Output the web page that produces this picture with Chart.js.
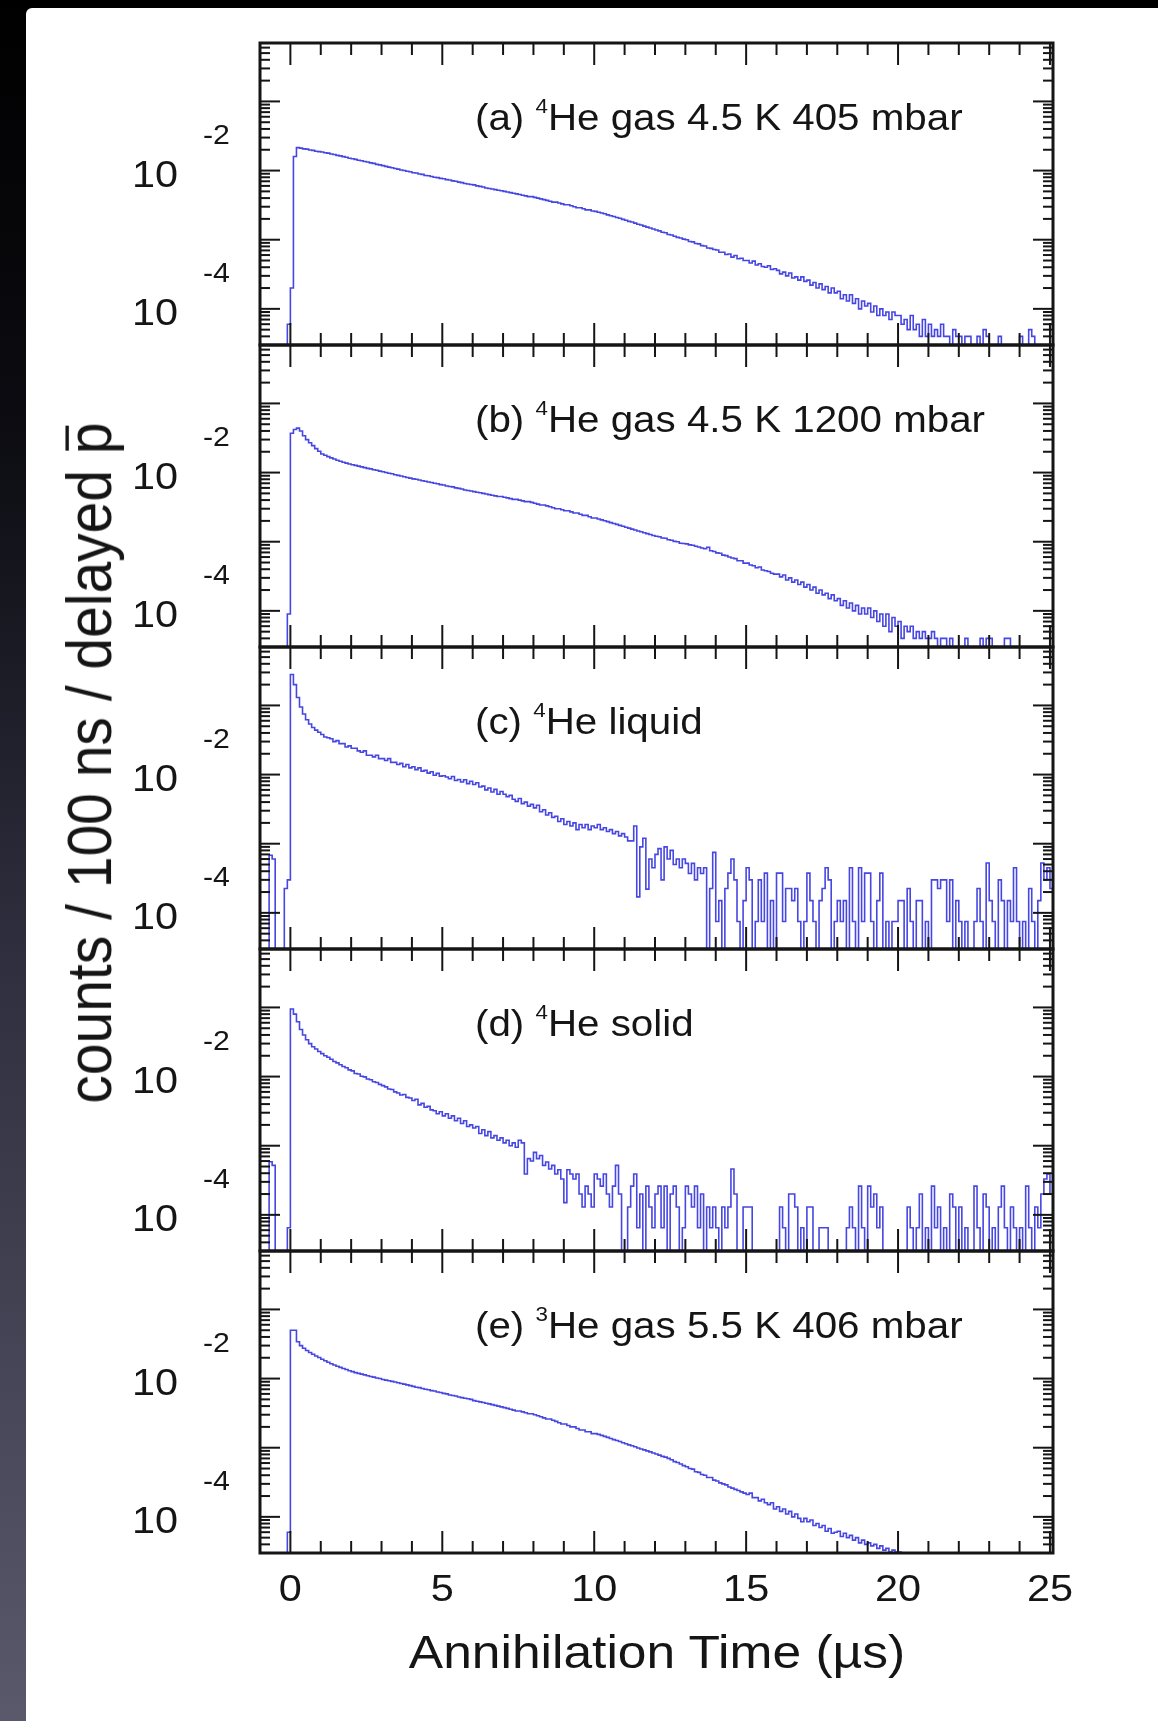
<!DOCTYPE html>
<html>
<head>
<meta charset="utf-8">
<script src="https://cdn.jsdelivr.net/npm/chart.js@4.4.1/dist/chart.umd.min.js"></script>
<style>
  html, body { margin: 0; padding: 0; }
  body {
    width: 1158px; height: 1721px; position: relative; overflow: hidden;
    background: linear-gradient(to bottom, #000 0%, #0c0c12 25%, #2e2e3e 55%, #5a596c 100%);
  }
  #sheet { position: absolute; left: 26px; top: 8px; right: 0; bottom: 0; background: #fff; border-top-left-radius: 6px; }
  .panel { position: absolute; left: 0; }
  .title { position: absolute; font-family: "Liberation Sans", Arial, sans-serif; color: #151515; white-space: nowrap; }
  #xtitle { left: 657px; top: 1652px; font-size: 46px; transform: translate(-50%, -50%) scaleX(1.12); }
  #ytitle { left: 89px; top: 763px; font-size: 57px; transform: translate(-50%, -50%) scaleX(1.12) rotate(-90deg); }
  .pbar { position: relative; }
  .pbar::before { content: ""; position: absolute; left: 0.06em; right: 0.06em; top: 0.2em; border-top: 0.055em solid #151515; }
</style>
</head>
<body>
<div id="sheet"></div>
<div class="panel" id="p0"><canvas></canvas></div>
<div class="panel" id="p1"><canvas></canvas></div>
<div class="panel" id="p2"><canvas></canvas></div>
<div class="panel" id="p3"><canvas></canvas></div>
<div class="panel" id="p4"><canvas></canvas></div>
<div class="title" id="ytitle">counts / 100 ns / delayed <span class="pbar">p</span></div>
<div class="title" id="xtitle">Annihilation Time (µs)</div>

<script>
// histogram: 100 ns bins, first bin starts at -1.0 us, last bin starts at 25.0 us
const firstBinEdge = -1.0;
const binWidth = 0.1;

const panelTags = ["(a)", "(b)", "(c)", "(d)", "(e)"];
const panelMass = ["4", "4", "4", "4", "3"];
const panelTexts = ["He gas 4.5 K 405 mbar", "He gas 4.5 K 1200 mbar", "He liquid", "He solid", "He gas 5.5 K 406 mbar"];

const xTickLabels = [0, 5, 10, 15, 20, 25];
const yLabelExponents = [-2, -4];

// counts / 100 ns / delayed pbar, one row per microsecond (first row: -1.0 .. -0.1)
const countsA = [
  0, 0, 0, 0, 0, 0, 0, 0, 0, 6e-5,
  2e-4, 0.0160, 0.0215, 0.0211, 0.0206, 0.0204, 0.0198, 0.0196, 0.0190, 0.0188,
  0.0186, 0.0181, 0.0179, 0.0174, 0.0171, 0.0166, 0.0163, 0.0159, 0.0156, 0.0151,
  0.0148, 0.0145, 0.0141, 0.0139, 0.0135, 0.0133, 0.0129, 0.0127, 0.0123, 0.0121,
  0.0118, 0.0115, 0.0112, 0.0110, 0.0107, 0.0105, 0.0102, 0.0100, 0.0098, 0.0096,
  0.0093, 0.0092, 0.0089, 0.0088, 0.0085, 0.0084, 0.0082, 0.0080, 0.0079, 0.0077,
  0.0076, 0.0074, 0.0073, 0.0071, 0.0070, 0.0068, 0.0067, 0.0065, 0.0064, 0.0063,
  0.0062, 0.0060, 0.0059, 0.0058, 0.0056, 0.0055, 0.0054, 0.0053, 0.0052, 0.0051,
  0.0050, 0.0049, 0.0048, 0.0047, 0.0046, 0.0045, 0.0044, 0.0043, 0.0042, 0.0042,
  0.0041, 0.0040, 0.0039, 0.0038, 0.0037, 0.0036, 0.0035, 0.0035, 0.0034, 0.0033,
  0.0032, 0.0032, 0.0031, 0.0030, 0.0029, 0.0029, 0.0028, 0.0027, 0.0027, 0.0026,
  0.00257, 0.00250, 0.00243, 0.00237, 0.00229, 0.00222, 0.00217, 0.00209, 0.00204, 0.00197,
  0.00191, 0.00184, 0.00180, 0.00174, 0.00167, 0.00163, 0.00157, 0.00152, 0.00148, 0.00143,
  0.00138, 0.00134, 0.00128, 0.00126, 0.00119, 0.00117, 0.00112, 0.00108, 0.00106, 0.00102,
  0.00100, 0.00094, 0.00093, 0.00088, 0.00087, 0.00082, 0.00081, 0.00076, 0.00075, 0.00072,
  0.00071, 0.00066, 0.00066, 0.00061, 0.00062, 0.00056, 0.00059, 0.00053, 0.00054, 0.00050,
  0.00050, 0.00046, 0.00049, 0.00043, 0.00045, 0.00041, 0.00040, 0.00042, 0.00037, 0.00038,
  0.00036, 0.00032, 0.00034, 0.00030, 0.00033, 0.00028, 0.00029, 0.00026, 0.00029, 0.00025,
  0.00026, 0.00022, 0.00024, 0.00020, 0.00023, 0.00019, 0.00021, 0.00017, 0.00020, 0.00017,
  0.00018, 0.00014, 0.00016, 0.00013, 0.00016, 0.00012, 0.00014, 0.00010, 0.00013, 0.00011,
  0.00012, 0.00009, 0.00011, 0.00008, 0.00010, 0.00008, 0.00009, 0.00007, 0.00009, 0.00008,
  0.00008, 0.00006, 0.00007, 0.00005, 0.00008, 0.00005, 0.00006, 0.00004, 0.00007, 0.00004,
  0.00006, 0.00004, 0.00005, 0.00004, 0.00006, 0.00004, 0.00004, 0.00003, 0.00005, 0.00004,
  0.00004, 0, 0.00004, 0.00004, 0, 0, 0.00004, 0, 0.00005, 0.00004,
  0, 0, 0, 0.00004, 0, 0, 0, 0, 0, 0,
  0.00004, 0, 0, 0.00005, 0.00004, 0, 0, 0, 0, 0,
  0
];

const countsB = [
  0, 0, 0, 0, 0, 0, 0, 0, 0, 9e-5,
  0.037, 0.042, 0.044, 0.040, 0.034, 0.030, 0.027, 0.0245, 0.0222, 0.0203,
  0.0186, 0.0178, 0.0170, 0.0163, 0.0157, 0.0151, 0.0146, 0.0141, 0.0137, 0.0133,
  0.0130, 0.0127, 0.0124, 0.0121, 0.0118, 0.0115, 0.0113, 0.0110, 0.0108, 0.0105,
  0.0103, 0.0100, 0.0098, 0.0096, 0.0093, 0.0091, 0.0089, 0.0087, 0.0085, 0.0083,
  0.0081, 0.0080, 0.0078, 0.0076, 0.0075, 0.0073, 0.0072, 0.0070, 0.0069, 0.0067,
  0.0066, 0.0064, 0.0063, 0.0062, 0.0060, 0.0059, 0.0058, 0.0056, 0.0055, 0.0054,
  0.0053, 0.0052, 0.0051, 0.0050, 0.0049, 0.0048, 0.0047, 0.0046, 0.0045, 0.0045,
  0.0044, 0.0043, 0.0042, 0.0041, 0.0041, 0.0040, 0.0039, 0.0038, 0.0038, 0.0037,
  0.0036, 0.0035, 0.0034, 0.0034, 0.0033, 0.0032, 0.0031, 0.0030, 0.0030, 0.0029,
  0.0028, 0.0028, 0.0027, 0.0026, 0.0026, 0.0025, 0.0024, 0.0024, 0.0023, 0.0022,
  0.00220, 0.00213, 0.00207, 0.00201, 0.00195, 0.00189, 0.00183, 0.00178, 0.00172, 0.00167,
  0.00162, 0.00157, 0.00152, 0.00148, 0.00143, 0.00139, 0.00135, 0.00131, 0.00127, 0.00123,
  0.00120, 0.00118, 0.00113, 0.00112, 0.00107, 0.00105, 0.00101, 0.00100, 0.00095, 0.00094,
  0.00093, 0.00090, 0.00089, 0.00086, 0.00084, 0.00081, 0.00079, 0.00083, 0.00074, 0.00072,
  0.00069, 0.00068, 0.00064, 0.00063, 0.00060, 0.00058, 0.00057, 0.00053, 0.00053, 0.00049,
  0.00049, 0.00046, 0.00045, 0.00042, 0.00043, 0.00039, 0.00038, 0.00037, 0.00035, 0.00034,
  0.00034, 0.00031, 0.00033, 0.00028, 0.00030, 0.00026, 0.00028, 0.00024, 0.00026, 0.00022,
  0.00024, 0.00020, 0.00022, 0.00018, 0.00020, 0.00017, 0.00018, 0.00015, 0.00017, 0.00014,
  0.00015, 0.00012, 0.00014, 0.00011, 0.00013, 0.00010, 0.00012, 0.00009, 0.00011, 0.00009,
  0.00011, 0.00008, 0.00010, 0.00007, 0.00009, 0.00006, 0.00009, 0.00005, 0.00008, 0.00006,
  0.00007, 0.00004, 0.00006, 0.00005, 0.00006, 0.00004, 0.00005, 0.00004, 0.00005, 0.00004,
  0.00004, 0.00005, 0.00004, 0, 0.00004, 0.00004, 0, 0.00004, 0, 0,
  0, 0, 0.00004, 0, 0, 0, 0, 0.00004, 0, 0.00004,
  0.00004, 0, 0, 0, 0, 0.00004, 0.00004, 0, 0, 0,
  0, 0, 0, 0, 0, 0, 0, 0, 0, 0,
  0
];

const countsC = [
  0, 0, 0, 6.8e-4, 6e-4, 0, 0, 0, 2.25e-4, 3e-4,
  0.28, 0.20, 0.13, 0.095, 0.075, 0.062, 0.054, 0.048, 0.044, 0.041,
  0.038, 0.035, 0.034, 0.033, 0.030, 0.031, 0.028, 0.028, 0.025, 0.026,
  0.024, 0.024, 0.022, 0.021, 0.022, 0.019, 0.019, 0.018, 0.019, 0.017,
  0.017, 0.016, 0.017, 0.015, 0.015, 0.014, 0.0145, 0.013, 0.014, 0.0125,
  0.013, 0.0118, 0.0125, 0.0112, 0.0115, 0.0105, 0.011, 0.0098, 0.0104, 0.0095,
  0.0096, 0.0092, 0.0087, 0.0094, 0.0082, 0.0085, 0.0078, 0.0084, 0.0074, 0.0080,
  0.0072, 0.0076, 0.0066, 0.0068, 0.0060, 0.0064, 0.0056, 0.0061, 0.0052, 0.0057,
  0.0052, 0.0048, 0.0050, 0.0044, 0.0041, 0.0045, 0.0038, 0.0040, 0.0035, 0.0037,
  0.0033, 0.0036, 0.0029, 0.0031, 0.0026, 0.0028, 0.0024, 0.0025, 0.0021, 0.0023,
  0.0019, 0.0021, 0.0018, 0.0020, 0.0016, 0.0019, 0.0017, 0.0019, 0.0016, 0.0018,
  0.0017, 0.0019, 0.0016, 0.0017, 0.0015, 0.0016, 0.0014, 0.0015, 0.0013, 0.0014,
  0.00125, 0.0011, 0.0011, 0.0018, 0.00017, 0.0009, 0.0012, 0.00022, 0.0006, 0.00045,
  0.0007, 0.00085, 0.0003, 0.0009, 0.0006, 0.0008, 0.0005, 0.0006, 0.00045, 0.0006,
  0.00052, 0.00037, 0.00052, 0.0003, 0.00045, 0.00037, 0.00045, 0, 0.000225, 0.00075,
  0.000075, 0.00015, 0, 0.000225, 0.000375, 0.0006, 0.0003, 0.000075, 0, 0.00015,
  0.00045, 0.0003, 0, 0.000075, 0.0003, 0.000075, 0.000375, 0, 0.00015, 0,
  0.000375, 0.000375, 0.000075, 0.000225, 0.000225, 0.00015, 0.000225, 0.000075, 0, 0.000075,
  0.000375, 0.00015, 0.000075, 0, 0.00015, 0.000225, 0.00045, 0.0003, 0, 0.000075,
  0.00015, 0.000075, 0.00015, 0, 0.00045, 0.000075, 0, 0.00045, 0.000075, 0.000375,
  0.000375, 0.000075, 0, 0.00015, 0.000375, 0, 0.000075, 0, 0.000075, 0.000075,
  0.00015, 0.00015, 0, 0.000225, 0.000075, 0, 0.00015, 0.00015, 0, 0.000075,
  0, 0.0003, 0.0003, 0.000225, 0.0003, 0.0003, 0.000075, 0.0003, 0, 0.00015,
  0.000075, 0, 0.000075, 0, 0, 0.000075, 0.000225, 0.000075, 0, 0.000525,
  0.00015, 0.000075, 0, 0.0003, 0.00015, 0, 0.00015, 0.000075, 0.00045, 0.000075,
  0, 0.000075, 0, 0.000225, 0.000075, 0, 0.00015, 0.000525, 0.0003, 0.00045,
  0.000225
];

const countsD = [
  0, 0, 0, 5.85e-4, 5.2e-4, 0, 0, 0, 0, 6.5e-5,
  0.095, 0.080, 0.062, 0.048, 0.040, 0.034, 0.030, 0.027, 0.025, 0.023,
  0.0215, 0.020, 0.019, 0.0178, 0.0165, 0.0158, 0.0148, 0.0140, 0.0134, 0.0125,
  0.0121, 0.0111, 0.0109, 0.0101, 0.0099, 0.0092, 0.0090, 0.0084, 0.0082, 0.0077,
  0.0074, 0.0071, 0.0066, 0.0065, 0.0060, 0.0058, 0.0054, 0.0055, 0.0050, 0.0049,
  0.0045, 0.0047, 0.0039, 0.0041, 0.0036, 0.0037, 0.0033, 0.0032, 0.0029, 0.0031,
  0.0027, 0.0029, 0.0025, 0.0027, 0.0023, 0.0025, 0.0021, 0.0023, 0.0019, 0.0020,
  0.0018, 0.0019, 0.0015, 0.0017, 0.0014, 0.0016, 0.0013, 0.0014, 0.0012, 0.0013,
  0.0011, 0.0012, 0.0010, 0.0011, 0.00095, 0.0012, 0.0011, 0.00039, 0.00065, 0.0006,
  0.0008, 0.00065, 0.00072, 0.00052, 0.00058, 0.00046, 0.00052, 0.00039, 0.00045, 0.00033,
  0.00015, 0.00045, 0.00039, 0.00033, 0.00039, 0.0002, 0.00013, 0.00026, 0.0002, 0.00013,
  0.00039, 0.00033, 0.00026, 0.00039, 0.0002, 0.00013, 0.00026, 0.00052, 0.0002, 0,
  0, 0.00013, 0.00026, 0.00039, 0.000065, 0.0002, 0, 0.00026, 0.00013, 0.000065,
  0.0002, 0.00026, 0.000065, 0.00026, 0, 0.0002, 0.00026, 0.00013, 0, 0.000065,
  0.00026, 0.0002, 0.00013, 0.00026, 0.000065, 0.0002, 0, 0.00013, 0.000065, 0.00013,
  0.000065, 0, 0.00013, 0.000065, 0.00013, 0.00046, 0.0002, 0, 0, 0.00013,
  0.00013, 0.00013, 0, 0, 0, 0, 0, 0, 0, 0,
  0, 0.00013, 0.000065, 0, 0.0002, 0.0002, 0.00013, 0, 0.000065, 0,
  0.00013, 0.00013, 0, 0, 0.000065, 0.000065, 0.000065, 0, 0, 0,
  0, 0, 0, 0.000065, 0.00013, 0.000065, 0, 0.00026, 0.000065, 0,
  0.00026, 0.00013, 0.0002, 0.000065, 0.00013, 0, 0, 0, 0, 0,
  0, 0, 0, 0.00013, 0.000065, 0, 0.000065, 0.0002, 0, 0.000065,
  0, 0.00026, 0.000065, 0.00013, 0, 0.000065, 0, 0.0002, 0.00013, 0,
  0.00013, 0, 0.000065, 0, 0, 0.00026, 0.000065, 0, 0.0002, 0.00013,
  0, 0.000065, 0, 0.00013, 0.00026, 0.000065, 0, 0.00013, 0.000065, 0,
  0.000065, 0, 0.00026, 0.000065, 0, 0.00013, 0.000065, 0.0002, 0.00033, 0.00039,
  0.0002
];

const countsE = [
  0, 0, 0, 0, 0, 0, 0, 0, 0, 6e-5,
  0.050, 0.050, 0.034, 0.030, 0.0275, 0.0255, 0.0238, 0.0225, 0.0212, 0.0202,
  0.0190, 0.0181, 0.0172, 0.0164, 0.0157, 0.0151, 0.0145, 0.0140, 0.0135, 0.0130,
  0.0126, 0.0122, 0.0119, 0.0116, 0.0113, 0.0110, 0.0107, 0.0105, 0.0102, 0.0100,
  0.0097, 0.0095, 0.0093, 0.0091, 0.0089, 0.0087, 0.0085, 0.0083, 0.0081, 0.0079,
  0.0077, 0.0075, 0.0074, 0.0072, 0.0070, 0.0069, 0.0067, 0.0066, 0.0064, 0.0063,
  0.0061, 0.0060, 0.0058, 0.0057, 0.0056, 0.0054, 0.0053, 0.0052, 0.0051, 0.0050,
  0.0048, 0.0047, 0.0046, 0.0045, 0.0044, 0.0043, 0.0042, 0.0041, 0.0040, 0.0039,
  0.0038, 0.0037, 0.0036, 0.0035, 0.0034, 0.0034, 0.0033, 0.0032, 0.0031, 0.0031,
  0.0030, 0.0029, 0.0028, 0.0027, 0.0026, 0.0026, 0.0025, 0.0024, 0.0023, 0.0022,
  0.0022, 0.0021, 0.0020, 0.0020, 0.0019, 0.0018, 0.0018, 0.0017, 0.0017, 0.0016,
  0.00160, 0.00156, 0.00151, 0.00146, 0.00141, 0.00136, 0.00131, 0.00127, 0.00123, 0.00118,
  0.00114, 0.00110, 0.00107, 0.00103, 0.00099, 0.00096, 0.00093, 0.00090, 0.00087, 0.00084,
  0.00081, 0.00078, 0.00075, 0.00073, 0.00070, 0.00067, 0.00063, 0.00061, 0.00058, 0.00055,
  0.00053, 0.00050, 0.00049, 0.00045, 0.00044, 0.00041, 0.00040, 0.00037, 0.00037, 0.00034,
  0.00033, 0.00031, 0.00030, 0.00029, 0.00027, 0.00026, 0.00025, 0.00024, 0.00023, 0.00022,
  0.00021, 0.00022, 0.00019, 0.00019, 0.00017, 0.00018, 0.00016, 0.00015, 0.00016, 0.00013,
  0.00014, 0.00012, 0.00013, 0.00011, 0.00012, 0.00010, 0.00011, 0.000095, 0.000085, 0.000095,
  0.000085, 0.000090, 0.000075, 0.000080, 0.000070, 0.000075, 0.000062, 0.000068, 0.000058, 0.000060,
  0.000062, 0.000052, 0.000058, 0.000050, 0.000054, 0.000046, 0.000050, 0.000042, 0.000046, 0.000040,
  0.000042, 0.000038, 0.000040, 0.000035, 0.000038, 0.000033, 0.000035, 0.000031, 0.000033, 0.000031,
  0.000031, 0.000030, 0, 0.00003, 0, 0, 0, 0, 0, 0,
  0, 0, 0, 0, 0, 0, 0, 0, 0, 0,
  0, 0, 0, 0, 0, 0, 0, 0, 0, 0,
  0, 0, 0, 0, 0, 0, 0, 0, 0, 0,
  0, 0, 0, 0, 0, 0, 0, 0, 0, 0,
  0
];

const allCounts = [countsA, countsB, countsC, countsD, countsE];

// axis ranges
const xMin = -1, xMax = 25.1;
const yMin = 3e-5, yMax = 0.7;

// layout (page pixels)
const plotLeft = 260, plotRight = 1053;
const plotTop = 43, panelH = 302;
const pad = 30;
const textStretch = 1.12;
const fontFam = '"Liberation Sans", Arial, sans-serif';
const inkColor = "#151515";
const lineColor = "#4646e2";

function stretchedText(ctx, str, x, y, size, align, baseline) {
  ctx.save();
  ctx.translate(x, y);
  ctx.scale(textStretch, 1);
  ctx.font = size + "px " + fontFam;
  ctx.textAlign = align;
  ctx.textBaseline = baseline;
  ctx.fillText(str, 0, 0);
  ctx.restore();
}

function tickLine(ctx, x1, y1, x2, y2) {
  ctx.beginPath();
  ctx.moveTo(x1, y1);
  ctx.lineTo(x2, y2);
  ctx.stroke();
}

function rootFrame(idx) {
  return {
    id: "rootFrame" + idx,
    afterDraw(chart) {
      const ctx = chart.ctx;
      const a = chart.chartArea;
      const xs = chart.scales.x, ys = chart.scales.y;
      ctx.save();
      ctx.strokeStyle = inkColor;
      ctx.fillStyle = inkColor;
      ctx.lineWidth = 2;

      // x ticks, top and bottom, pointing inward
      for (let v = Math.ceil(xMin); v <= Math.floor(xMax); v++) {
        const px = xs.getPixelForValue(v);
        const len = v % 5 === 0 ? 22 : 12;
        tickLine(ctx, px, a.bottom, px, a.bottom - len);
        tickLine(ctx, px, a.top, px, a.top + len);
      }
      // y ticks, log decades
      for (let e = -6; e <= 0; e++) {
        for (let k = 1; k <= 9; k++) {
          const v = k * Math.pow(10, e);
          if (v < yMin || v >= yMax) continue;
          const py = ys.getPixelForValue(v);
          const len = k === 1 ? 20 : 10;
          tickLine(ctx, a.left, py, a.left + len, py);
          tickLine(ctx, a.right, py, a.right - len, py);
        }
      }
      ctx.lineWidth = 3;
      ctx.strokeRect(a.left, a.top, a.right - a.left, a.bottom - a.top);

      // y labels 10^n
      yLabelExponents.forEach(function (n) {
        const py = ys.getPixelForValue(Math.pow(10, n));
        stretchedText(ctx, "10", 178, py + 6, 37, "right", "middle");
        stretchedText(ctx, String(n), 203, py - 34, 27, "left", "middle");
      });

      // panel label with isotope superscript
      ctx.save();
      ctx.translate(475, a.top + 87);
      ctx.scale(textStretch, 1);
      ctx.textAlign = "left";
      ctx.textBaseline = "alphabetic";
      ctx.font = "36px " + fontFam;
      const head = panelTags[idx] + " ";
      ctx.fillText(head, 0, 0);
      let w = ctx.measureText(head).width;
      ctx.font = "20px " + fontFam;
      ctx.fillText(panelMass[idx], w, -17);
      w += ctx.measureText(panelMass[idx]).width;
      ctx.font = "36px " + fontFam;
      ctx.fillText(panelTexts[idx], w, 0);
      ctx.restore();

      // x tick labels on the bottom panel only
      if (idx === allCounts.length - 1) {
        xTickLabels.forEach(function (v) {
          stretchedText(ctx, String(v), xs.getPixelForValue(v), a.bottom + 38, 37, "center", "middle");
        });
      }
      ctx.restore();
    }
  };
}

allCounts.forEach(function (counts, i) {
  const extraBottom = i === allCounts.length - 1 ? 70 : 0;
  const box = document.getElementById("p" + i);
  const canvas = box.querySelector("canvas");
  const h = panelH + 2 * pad + extraBottom;
  box.style.top = (plotTop + i * panelH - pad) + "px";
  canvas.width = 1158;
  canvas.height = h;
  canvas.style.width = "1158px";
  canvas.style.height = h + "px";

  // step histogram: one point per bin left edge, plus the closing edge
  const points = counts.map(function (c, k) {
    return { x: Math.round((firstBinEdge + k * binWidth) * 10) / 10, y: c > 0 ? c : yMin / 100 };
  });
  points.push({ x: xMax, y: points[points.length - 1].y });

  new Chart(canvas, {
    type: "line",
    data: {
      datasets: [{
        data: points,
        stepped: true,
        borderColor: lineColor,
        borderWidth: 1.6,
        pointRadius: 0,
        fill: false
      }]
    },
    options: {
      responsive: false,
      animation: false,
      events: [],
      layout: { padding: { left: plotLeft, right: 1158 - plotRight, top: pad, bottom: pad + extraBottom } },
      scales: {
        x: { type: "linear", min: xMin, max: xMax, display: false },
        y: { type: "logarithmic", min: yMin, max: yMax, display: false }
      },
      plugins: { legend: { display: false }, tooltip: { enabled: false } }
    },
    plugins: [rootFrame(i)]
  });
});
</script>
</body>
</html>
